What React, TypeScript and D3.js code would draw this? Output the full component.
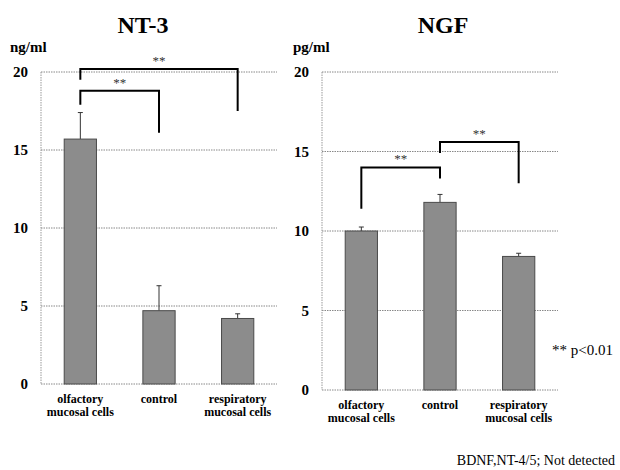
import React from "react";
import * as d3 from "d3";

const categories = [["olfactory", "mucosal cells"], ["control"], ["respiratory", "mucosal cells"]];
const yTicks = [0, 5, 10, 15, 20];

const nt3Means = [15.7, 4.7, 4.2];
const nt3Errors = [1.7, 1.6, 0.3];
const ngfMeans = [10.0, 11.8, 8.4];
const ngfErrors = [0.25, 0.5, 0.2];

// brackets: [from, to, top, left leg end, right leg end]
const nt3Brackets = [
  [0, 1, 18.8, 17.9, 16.1],
  [0, 2, 20.2, 19.5, 17.5],
];
const ngfBrackets = [
  [0, 1, 14.0, 11.4, 13.3],
  [1, 2, 15.6, 14.9, 13.0],
];

const serif = { fontFamily: "Liberation Serif, Times New Roman, DejaVu Serif, serif" };

type PanelProps = {
  title: string;
  unit: string;
  means: number[];
  errors: number[];
  brackets: number[][];
  x0: number;
  x1: number;
  yTop: number;
  yBottom: number;
  titleX: number;
  unitX: number;
};

const Panel = ({ title, unit, means, errors, brackets, x0, x1, yTop, yBottom, titleX, unitX }: PanelProps) => {
  const x = d3
    .scaleBand<number>()
    .domain(means.map((_, i) => i))
    .range([x0, x1])
    .paddingInner(0.59)
    .paddingOuter(0.295);
  const y = d3.scaleLinear().domain([0, 20]).range([yBottom, yTop]);
  const cx = (i: number) => (x(i) as number) + x.bandwidth() / 2;

  return (
    <g>
      <text x={titleX} y={33} textAnchor="middle" style={serif} fontWeight="bold" fontSize={24}>
        {title}
      </text>
      <text x={unitX} y={52} style={serif} fontWeight="bold" fontSize={15}>
        {unit}
      </text>
      {yTicks.map((t) => (
        <g key={t}>
          <line x1={x0} x2={x1} y1={y(t)} y2={y(t)} stroke="#888" strokeWidth={1} strokeDasharray="1.5,1" />
          <text x={x0 - 13} y={y(t)} dy="0.35em" textAnchor="end" style={serif} fontWeight="bold" fontSize={15}>
            {t}
          </text>
        </g>
      ))}
      <line x1={x0} x2={x0} y1={y(20)} y2={y(0)} stroke="#999" strokeWidth={1} strokeDasharray="1.5,1" />
      {means.map((m, i) => (
        <g key={i}>
          <line x1={cx(i)} x2={cx(i)} y1={y(m)} y2={y(m + errors[i])} stroke="#333" strokeWidth={1} />
          <line x1={cx(i) - 2.5} x2={cx(i) + 2.5} y1={y(m + errors[i])} y2={y(m + errors[i])} stroke="#333" strokeWidth={1} />
          <rect
            x={x(i)}
            y={y(m)}
            width={x.bandwidth()}
            height={y(0) - y(m)}
            fill="#8c8c8c"
            stroke="#4a4a4a"
            strokeWidth={1}
          />
          {categories[i].map((line, j) => (
            <text
              key={j}
              x={cx(i)}
              y={yBottom + 19 + j * 13}
              textAnchor="middle"
              style={serif}
              fontWeight="bold"
              fontSize={12}
            >
              {line}
            </text>
          ))}
        </g>
      ))}
      {brackets.map(([a, b, top, endA, endB], k) => {
        const xa = cx(a);
        const xb = cx(b);
        return (
          <g key={k}>
            <path d={`M${xa},${y(endA)}V${y(top)}H${xb}V${y(endB)}`} fill="none" stroke="#000" strokeWidth={2} />
            <text x={(xa + xb) / 2} y={y(top) - 4} textAnchor="middle" style={serif} fontSize={13} fill="#333">
              **
            </text>
          </g>
        );
      })}
    </g>
  );
};

export default function App() {
  return (
    <svg width={620} height={470} style={{ position: "absolute", left: 0, top: 0, background: "#fff" }}>
      <Panel
        title="NT-3"
        unit="ng/ml"
        means={nt3Means}
        errors={nt3Errors}
        brackets={nt3Brackets}
        x0={41}
        x1={277}
        yTop={72}
        yBottom={384}
        titleX={143}
        unitX={10}
      />
      <Panel
        title="NGF"
        unit="pg/ml"
        means={ngfMeans}
        errors={ngfErrors}
        brackets={ngfBrackets}
        x0={322}
        x1={558}
        yTop={72}
        yBottom={390}
        titleX={443}
        unitX={293}
      />
      <text x={552} y={355} style={serif} fontSize={15}>
        ** p&lt;0.01
      </text>
      <text x={615} y={465} textAnchor="end" style={serif} fontSize={14}>
        BDNF,NT-4/5; Not detected
      </text>
    </svg>
  );
}
